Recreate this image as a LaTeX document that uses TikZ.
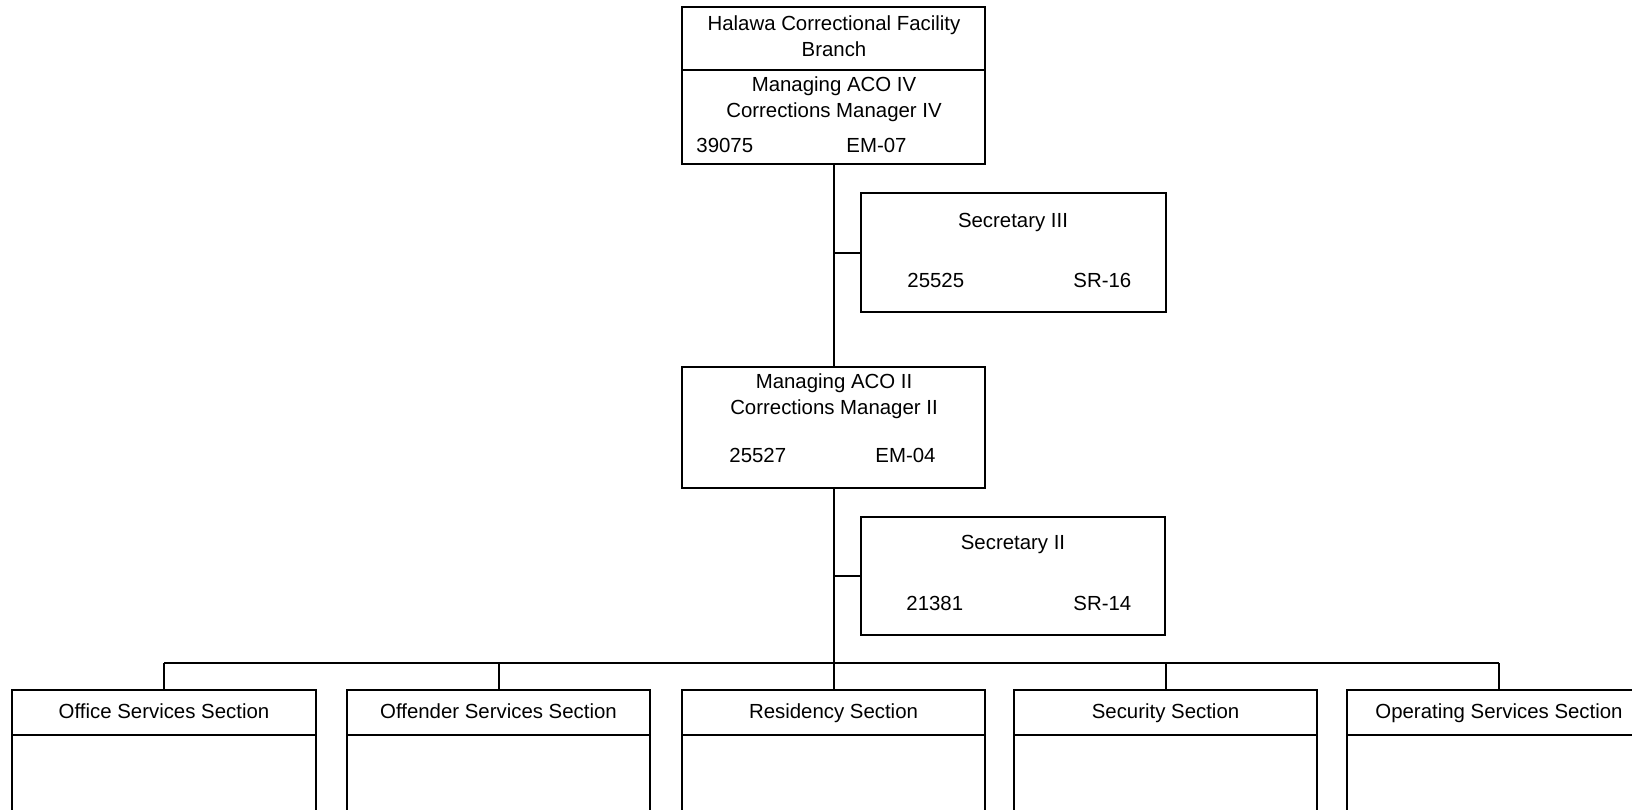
\documentclass[tikz,border=0pt]{standalone}
\usepackage{fontspec}
\setmainfont{Liberation Sans}
\usetikzlibrary{fit,calc}
\begin{document}
\begin{tikzpicture}[x=0.5pt,y=-0.5pt,
  box/.style={draw, line width=0.8pt, rectangle, inner sep=0pt, outer sep=0pt},
  lbl/.style={font=\fontsize{10.2}{13}\selectfont, inner sep=0pt, align=center},
  link/.style={line width=1pt},
  divider/.style={line width=1.4pt}]
\useasboundingbox (0,0) rectangle (1632,809);
\clip (0,0) rectangle (1632,809);

% top box
\node[box, fit={(682,7) (985,164)}] (top) {};
\coordinate (d1) at (0,70);
\draw[divider] (top.west |- d1) -- (top.east |- d1);
\node[lbl] (topT) at (834,36) {Halawa Correctional Facility\\Branch};
\node[lbl] (topR) at (834,99) {Managing ACO IV\\Corrections Manager IV};
\node[lbl, anchor=west] (topN) at (696,145) {39075};
\node[lbl, anchor=west] (topG) at (846,145) {EM-07};

% secretary III
\node[box, fit={(861,193) (1166,312)}] (sec3) {};
\node[lbl] (sec3T) at (1013,222) {Secretary III};
\node[lbl, anchor=west] (sec3N) at (907,280) {25525};
\node[lbl, anchor=west] (sec3G) at (1073,280) {SR-16};

% managing ACO II
\node[box, fit={(682,367) (985,488)}] (aco) {};
\node[lbl] (acoT) at (834,396) {Managing ACO II\\Corrections Manager II};
\node[lbl, anchor=west] (acoN) at (729,455) {25527};
\node[lbl, anchor=west] (acoG) at (875,455) {EM-04};

% secretary II
\node[box, fit={(861,517) (1165,635)}] (sec2) {};
\node[lbl] (sec2T) at (1013,544) {Secretary II};
\node[lbl, anchor=west] (sec2N) at (906,603) {21381};
\node[lbl, anchor=west] (sec2G) at (1073,603) {SR-14};

% sections
\coordinate (d2) at (0,735);
\coordinate (bus) at (0,663);
\foreach \n/\a/\b/\t in {off/12/316/Office Services Section,
                         offd/347/650/Offender Services Section,
                         res/682/985/Residency Section,
                         sec/1014/1317/Security Section,
                         ops/1347/1651/Operating Services Section}{
  \node[box, fit={(\a,690) (\b,840)}] (\n) {};
  \draw[divider] (\n.west |- d2) -- (\n.east |- d2);
  \node[lbl, anchor=base] (\n T) at ($(\a,718.5)!0.5!(\b,718.5)$) {\t};
  \draw[link] (\n.north) -- (\n.north |- bus);
}
\draw[link] (off.north |- bus) -- (ops.north |- bus);

% connectors
\draw[link] (top.south) -- (aco.north);
\draw[link] (top.south |- sec3.west) -- (sec3.west);
\draw[link] (aco.south) -- (aco.south |- bus);
\draw[link] (aco.south |- sec2.west) -- (sec2.west);
\end{tikzpicture}
\end{document}
